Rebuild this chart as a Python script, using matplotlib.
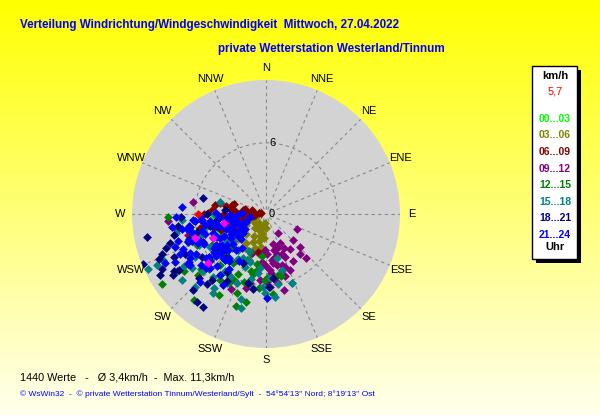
import numpy as np
import matplotlib
matplotlib.use("Agg")
import matplotlib.pyplot as plt
from matplotlib.patches import Rectangle

plt.rcParams["font.family"] = ["Liberation Sans", "DejaVu Sans"]

W, H = 600, 415
R_MAX = 11.3
MEAN_SPEED = 3.4
LAST_SPEED = 5.7
LAST_DIR = 270
N_VALUES = 1440

DIR_LABELS = ["N", "NNE", "NE", "ENE", "E", "ESE", "SE", "SSE",
              "S", "SSW", "SW", "WSW", "W", "WNW", "NW", "NNW"]
RING_TICKS = [0, 6]

HOUR_BINS = ["00...03", "03...06", "06...09", "09...12",
             "12...15", "15...18", "18...21", "21...24"]
HOUR_COLORS = ["#00ff00", "#808000", "#800000", "#800080",
               "#008000", "#008080", "#000080", "#0000ff"]

# wind direction (deg) and speed (km/h) per 3-hour bin
dir_00 = [262, 258, 266, 255, 270, 250, 264, 245, 268, 259, 252, 261]
spd_00 = [3.3, 2.5, 4.5, 3.8, 2.0, 4.2, 1.6, 3.0, 3.8, 5.0, 2.2, 2.8]

dir_03 = [182, 185, 188, 190, 192, 195, 198, 200, 184, 187, 193, 196,
          205, 210, 215, 220, 225, 230, 235, 240, 245, 250,
          208, 218, 228, 238, 248,
          255, 260, 265, 270, 275, 280, 258, 268, 278, 262, 272,
          200, 212]
spd_03 = [1.2, 2.0, 2.8, 3.4, 1.6, 2.4, 3.0, 3.6, 0.8, 3.2, 1.0, 1.9,
          2.6, 2.1, 3.0, 1.5, 2.4, 1.2, 2.8, 1.9, 2.2, 1.0,
          1.4, 1.0, 3.2, 2.5, 1.6,
          1.2, 2.0, 0.8, 1.5, 1.0, 1.8, 2.6, 2.3, 0.6, 1.5, 2.1,
          1.1, 3.4]

dir_06 = [275, 280, 285, 270, 265, 260, 278, 272, 268, 283, 288, 262, 276, 281, 266, 271, 258, 274, 286, 279,
          256, 263, 269, 277, 273,
          258, 271, 274, 276, 232, 192, 250, 245, 240, 262, 284, 266, 255, 280, 270]
spd_06 = [1.0, 2.0, 3.0, 3.5, 2.5, 1.5, 0.6, 1.2, 3.0, 1.8, 2.8, 2.2, 2.6, 3.4, 0.9, 2.3, 3.2, 1.6, 1.2, 0.4,
          3.6, 1.1, 1.8, 3.0, 2.8,
          5.7, 4.9, 4.6, 3.0, 5.7, 3.3, 4.0, 3.0, 2.4, 4.3, 4.0, 3.9, 4.5, 4.4, 5.2]

dir_09 = [148, 156, 168, 176, 185, 157, 138, 167, 177, 134, 134, 115, 185, 193,
          160, 165, 170, 172, 175, 162, 158, 152, 150, 163, 171, 178, 180, 182, 166, 174,
          155, 160, 168, 173, 179, 164, 158, 145, 140, 186,
          266, 260, 279, 255, 230, 240, 210, 200, 205, 195]
spd_09 = [1.9, 4.0, 4.4, 4.7, 4.1, 5.1, 5.0, 6.6, 6.2, 3.2, 4.0, 2.9, 5.6, 6.0,
          3.0, 3.5, 3.8, 4.2, 5.0, 4.5, 3.6, 3.2, 4.6, 5.5, 5.8, 3.4, 4.4, 3.0, 2.6, 5.3,
          2.7, 4.8, 3.1, 3.9, 5.7, 4.9, 2.9, 3.6, 4.4, 3.5,
          8.3, 7.6, 6.2, 6.8, 5.0, 4.0, 4.5, 3.5, 7.0, 6.5]

dir_12 = [236, 220, 200, 181, 179, 169, 166, 189, 217, 208, 210, 206, 237, 235, 228, 246, 246, 268,
          195, 198, 202, 205, 212, 215, 222, 225, 230, 190, 185, 193, 203, 214, 224, 233, 240,
          198, 210, 218, 226, 250, 255, 260, 186, 192, 175]
spd_12 = [10.6, 9.5, 7.1, 5.6, 5.4, 5.2, 5.4, 4.8, 6.4, 6.6, 6.0, 6.2, 8.9, 8.4, 7.7, 4.9, 6.4, 8.3,
          5.0, 6.0, 4.2, 5.6, 4.6, 6.8, 5.8, 4.0, 7.2, 4.3, 6.3, 7.6, 3.5, 5.0, 4.8, 6.0, 5.3,
          8.2, 7.9, 3.8, 6.7, 3.6, 5.5, 4.4, 3.6, 5.2, 6.8]

dir_15 = [195, 215, 209, 203, 190, 181, 174, 159, 164, 198, 200, 285, 266, 259, 245, 208, 210, 202, 186, 182,
          159, 216, 231, 239, 234, 246, 245,
          205, 212, 218, 222, 226, 230, 235, 240, 245, 250, 220, 228, 236, 242, 214, 224, 232, 196, 188, 252,
          258, 264, 270, 176, 170, 166, 193, 238]
spd_15 = [8.2, 7.6, 6.7, 6.3, 6.3, 6.7, 7.0, 6.2, 4.9, 4.3, 4.1, 4.0, 7.1, 5.1, 11.0, 4.2, 6.1, 4.8, 4.6, 6.2,
          6.2, 5.9, 5.9, 7.0, 7.7, 9.5, 10.1,
          3.4, 4.5, 3.8, 5.2, 4.4, 3.6, 4.8, 5.5, 6.2, 6.6, 6.9, 7.2, 4.0, 3.2, 8.0, 8.6, 9.0, 7.5, 5.0, 5.8,
          7.8, 6.0, 4.4, 5.4, 6.0, 3.8, 5.6, 8.2]

dir_18 = [248, 259, 249, 247, 242, 253, 251, 245, 237, 237, 224, 218, 214, 238, 240, 284, 219, 220, 214, 178,
          174, 190, 195,
          255, 260, 265, 262, 257, 250, 244, 236, 230, 226, 232, 246, 252, 258, 263, 270, 275, 268, 228, 222,
          210, 205]
spd_18 = [11.2, 10.2, 9.4, 9.8, 9.9, 8.5, 8.9, 8.6, 9.4, 8.7, 8.9, 9.4, 9.5, 9.1, 10.3, 5.5, 7.2, 7.7, 5.9, 6.2,
          5.4, 6.4, 6.0,
          6.0, 6.5, 5.5, 7.5, 8.0, 7.0, 7.6, 6.5, 6.2, 7.8, 5.2, 5.8, 6.8, 4.8, 4.2, 5.0, 3.5, 7.2, 4.5, 5.0,
          6.5, 4.6]

dir_21 = [275, 265, 238, 236, 179, 224, 242, 244, 237,
          230, 232, 234, 236, 238, 240, 242, 244, 246, 248, 250, 252, 254, 256, 258, 260, 262, 264, 266, 268,
          228, 233, 239, 245, 251, 257, 263, 269, 226, 231, 237, 243, 249, 255, 261, 267,
          235, 241, 247, 253, 259, 265, 271, 229, 223, 220, 217, 214, 211, 247, 250, 253, 256,
          240, 245, 250, 255, 260, 236, 232, 228, 224, 262, 268, 272, 244, 248, 234, 258,
          215, 220, 225, 230, 235, 240, 245, 250, 255, 260, 265, 210, 218, 226, 234, 242, 250, 258, 266, 222]
spd_21 = [7.1, 6.2, 7.7, 7.7, 7.1, 8.0, 8.7, 9.5, 7.8,
          5.5, 4.2, 6.3, 3.6, 5.0, 6.8, 4.4, 5.8, 3.2, 6.0, 4.8, 5.4, 3.8, 6.4, 4.6, 5.2, 3.4, 6.0, 4.0, 5.6,
          3.8, 6.0, 2.8, 4.6, 7.0, 2.6, 4.8, 3.0, 6.6, 4.6, 5.2, 7.2, 3.4, 5.6, 6.6, 2.4,
          2.2, 3.4, 6.2, 2.8, 6.8, 5.4, 4.2, 5.0, 6.0, 4.8, 6.4, 5.6, 7.0, 7.6, 8.2, 7.8, 3.8,
          7.4, 8.0, 6.6, 4.2, 7.2, 4.8, 7.0, 6.8, 5.2, 8.0, 7.6, 2.0, 2.4, 1.8, 3.0, 1.4,
          3.5, 4.0, 3.0, 2.5, 4.5, 3.2, 2.2, 3.6, 2.6, 3.0, 2.8, 4.6, 5.0, 4.4, 5.4, 4.0, 2.0, 4.2, 3.2, 5.2]

dir_pink = [251, 230, 246, 258]
spd_pink = [6.3, 6.4, 4.9, 3.6]

DIRS = [dir_00, dir_03, dir_06, dir_09, dir_12, dir_15, dir_18, dir_21]
SPDS = [spd_00, spd_03, spd_06, spd_09, spd_12, spd_15, spd_18, spd_21]

BLUE = "#0000ff"
GRID = "#8a8a8a"


def fx(px):
    return px / W


def fy(py):
    return 1 - py / H


fig = plt.figure(figsize=(6, 4.15), dpi=100)

# yellow background fading towards the bottom
bg = fig.add_axes([0, 0, 1, 1])
grad = np.linspace(0, 1, 256)[:, None]
top = np.array([1.0, 1.0, 0.0])
bottom = np.array([1.0, 1.0, 0.93])
img = top[None, None, :] * (1 - grad[..., None]) + bottom[None, None, :] * grad[..., None]
bg.imshow(img, aspect="auto", extent=[0, 1, 0, 1], origin="upper")
bg.set_axis_off()

cx, cy, rad = 266, 214, 134
ax = fig.add_axes([fx(cx - rad), fy(cy + rad), 2 * rad / W, 2 * rad / H], projection="polar")
ax.set_theta_zero_location("N")
ax.set_theta_direction(-1)
ax.set_ylim(0, R_MAX)
ax.set_facecolor("#d3d3d3")
ax.grid(False)
ax.set_xticks([])
ax.set_yticks([])
ax.spines["polar"].set_visible(False)

for i in range(16):
    th = np.deg2rad(i * 22.5)
    ax.plot([th, th], [0.4, R_MAX], color=GRID, lw=0.8, ls=(0, (3, 3)), zorder=1)
ring = np.linspace(0, 2 * np.pi, 200)
ax.plot(ring, np.full_like(ring, RING_TICKS[1]), color=GRID, lw=0.8, ls=(0, (3, 3)), zorder=1)

for r in RING_TICKS:
    ax.text(np.deg2rad(5) if r else np.deg2rad(90), r if r else 0.45, str(r), fontsize=8,
            ha="center", va="center", zorder=5)

for d, s, c in zip(DIRS, SPDS, HOUR_COLORS):
    ax.scatter(np.deg2rad(d), s, marker="D", s=20, color=c, linewidths=0, zorder=3)
ax.scatter(np.deg2rad(dir_pink), spd_pink, marker="D", s=20, color="#ff00ff", linewidths=0, zorder=3)
ax.scatter(np.deg2rad(LAST_DIR), LAST_SPEED, marker="D", s=20, color="#ff0000", linewidths=0, zorder=4)

for i, lab in enumerate(DIR_LABELS):
    th = np.deg2rad(i * 22.5)
    ax.text(th, R_MAX * 146 / 134, lab, fontsize=8, ha="center", va="center", clip_on=False)

# titles
fig.text(fx(20), fy(25), "Verteilung Windrichtung/Windgeschwindigkeit  Mittwoch, 27.04.2022",
         color=BLUE, fontsize=8.4, fontweight="bold", ha="left", va="center")
fig.text(fx(218), fy(49), "private Wetterstation Westerland/Tinnum",
         color=BLUE, fontsize=8.4, fontweight="bold", ha="left", va="center")

# legend box with shadow
fig.patches.append(Rectangle((fx(536), fy(263)), 45 / W, 193 / H, transform=fig.transFigure,
                             facecolor="black", edgecolor="none", zorder=1))
fig.patches.append(Rectangle((fx(532), fy(259)), 45 / W, 193 / H, transform=fig.transFigure,
                             facecolor="white", edgecolor="black", lw=1, zorder=2))
fig.text(fx(555), fy(76), "km/h", fontsize=8, fontweight="bold", ha="center", va="center", zorder=3)
fig.text(fx(555), fy(92), f"{LAST_SPEED:.1f}".replace(".", ","), fontsize=8, color="red",
         ha="center", va="center", zorder=3)
for k, (lab, c) in enumerate(zip(HOUR_BINS, HOUR_COLORS)):
    fig.text(fx(555), fy(119 + k * 16.5), lab, fontsize=7.5, fontweight="bold", color=c,
             ha="center", va="center", zorder=3)
fig.text(fx(555), fy(247), "Uhr", fontsize=8, fontweight="bold", ha="center", va="center", zorder=3)

# footer
mean_txt = f"{MEAN_SPEED:.1f}".replace(".", ",")
max_txt = f"{R_MAX:.1f}".replace(".", ",")
fig.text(fx(20), fy(377), f"{N_VALUES} Werte   -   Ø {mean_txt}km/h  -  Max. {max_txt}km/h",
         fontsize=7.8, ha="left", va="center")
fig.text(fx(20), fy(394),
         "© WsWin32  -  © private Wetterstation Tinnum/Westerland/Sylt  -  54°54'13'' Nord; 8°19'13'' Ost",
         fontsize=6.0, color=BLUE, ha="left", va="center")

fig.savefig("out.png", dpi=100)
